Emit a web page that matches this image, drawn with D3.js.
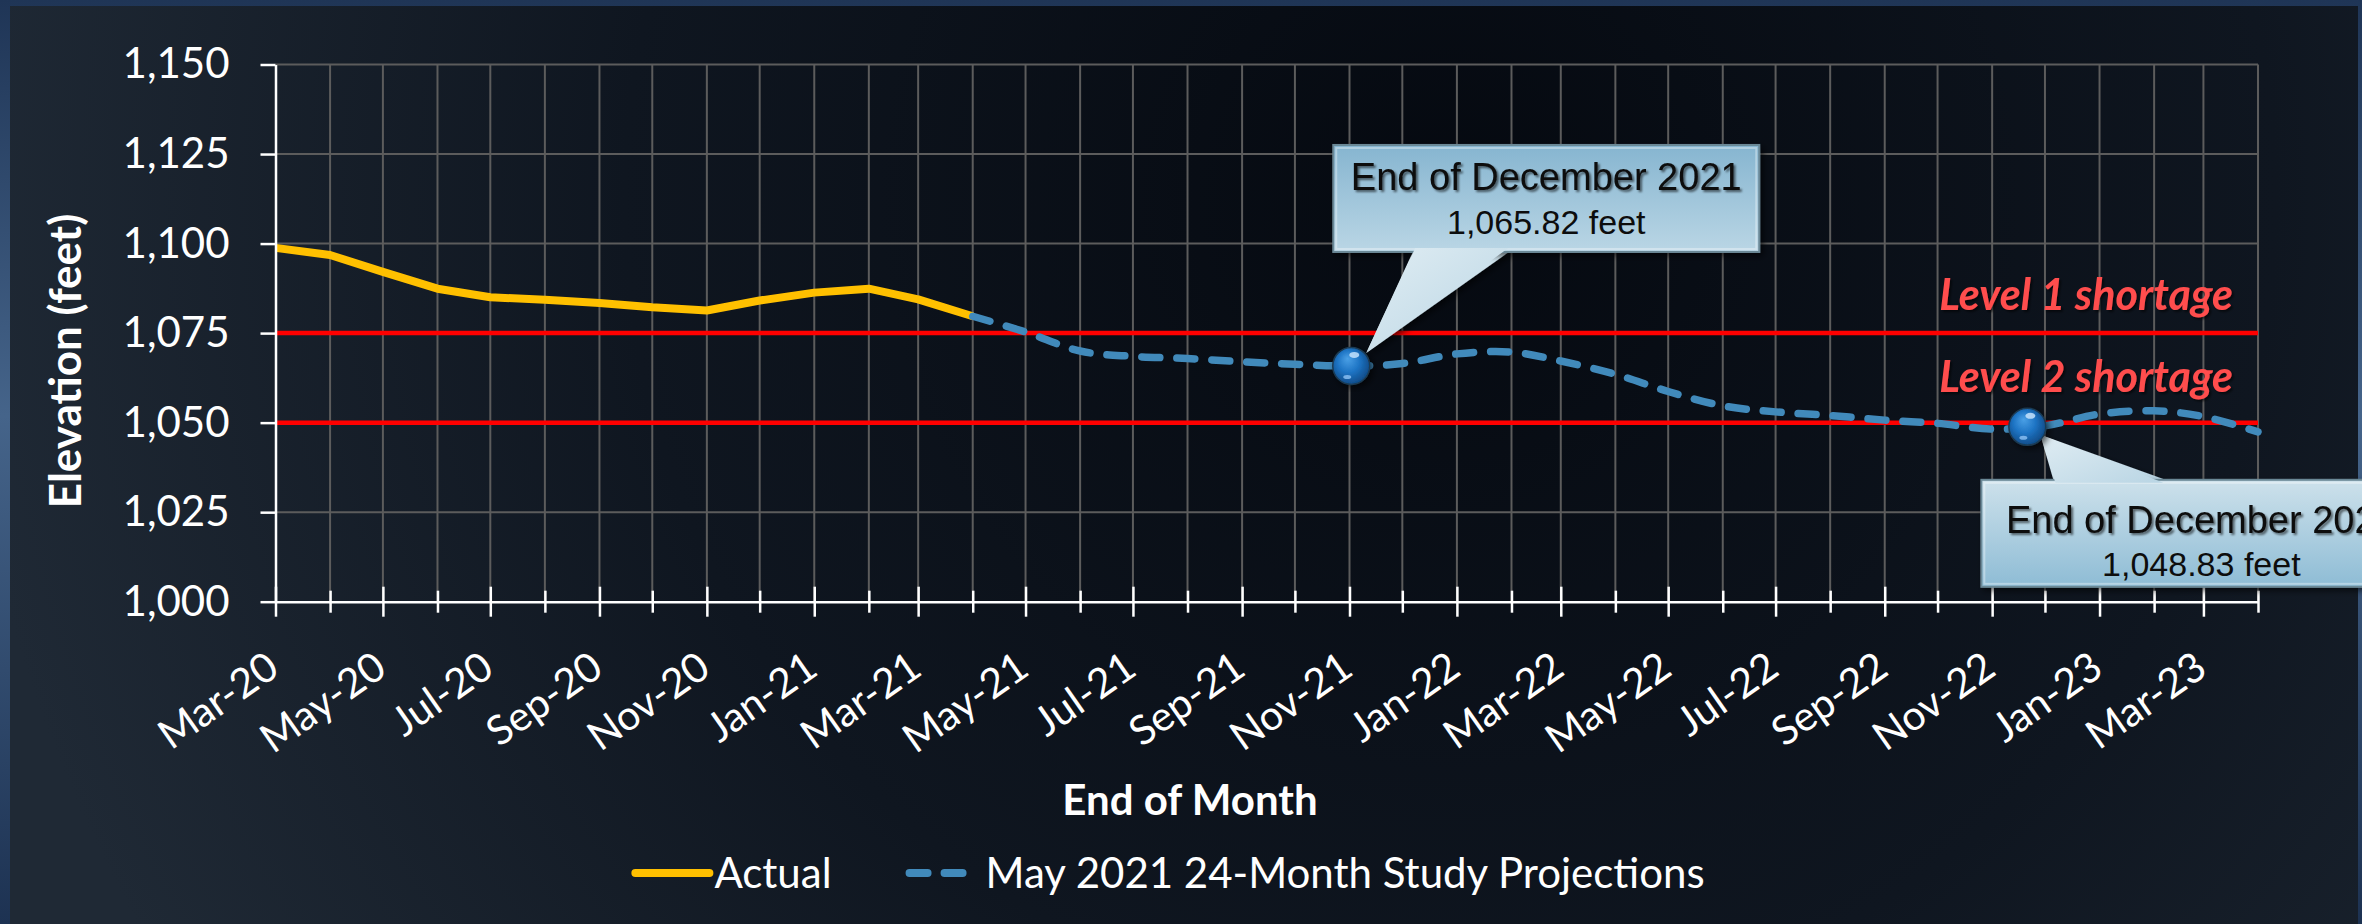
<!DOCTYPE html>
<html lang="en">
<head>
<meta charset="utf-8">
<title>Lake elevation projection</title>
<script src="https://cdn.jsdelivr.net/npm/d3@7"></script>
<style>
  html, body { margin: 0; padding: 0; background: #22395a; }
  svg { display: block; }
  .tick text { fill: #fff; font-family: Lato, "Open Sans", sans-serif; }
</style>
</head>
<body>
<script>
// --- data ---
var actualMonths = ["Mar-20","Apr-20","May-20","Jun-20","Jul-20","Aug-20","Sep-20","Oct-20",
                    "Nov-20","Dec-20","Jan-21","Feb-21","Mar-21","Apr-21"];
var actualElev = [1098.8, 1096.8, 1092.1, 1087.4, 1085.0, 1084.3, 1083.4, 1082.2,
                  1081.3, 1084.1, 1086.3, 1087.4, 1084.4, 1079.7];

var projMonths = ["Apr-21","May-21","Jun-21","Jul-21","Aug-21","Sep-21","Oct-21","Nov-21",
                  "Dec-21","Jan-22","Feb-22","Mar-22","Apr-22","May-22","Jun-22","Jul-22",
                  "Aug-22","Sep-22","Oct-22","Nov-22","Dec-22","Jan-23","Feb-23","Mar-23","Apr-23"];
var projElev = [1079.7, 1075.3, 1070.0, 1068.5, 1067.9, 1067.0, 1066.3, 1065.82,
                1066.5, 1069.2, 1069.7, 1067.2, 1063.5, 1058.7, 1054.7, 1053.0,
                1052.0, 1050.7, 1049.8, 1048.2, 1049.1, 1052.4, 1053.3, 1051.7, 1047.4];

var xTickLabels = ["Mar-20","May-20","Jul-20","Sep-20","Nov-20","Jan-21","Mar-21","May-21",
                   "Jul-21","Sep-21","Nov-21","Jan-22","Mar-22","May-22","Jul-22","Sep-22",
                   "Nov-22","Jan-23","Mar-23"];
var yTicks = [1000, 1025, 1050, 1075, 1100, 1125, 1150];

var shortageNames = ["Level 1 shortage", "Level 2 shortage"];
var shortageElev = [1075, 1050];

var calloutTitles = ["End of December 2021", "End of December 2022"];
var calloutElev = [1065.82, 1048.83];
var calloutDates = ["2021-11-02", "2022-11-21"];

var seriesNames = ["Actual", "May 2021 24-Month Study Projections"];

// --- setup ---
var w = 2362, h = 924;
var parseM = d3.timeParse("%b-%y");
var fmtM = d3.timeFormat("%b-%y");

var svg = d3.select("body").append("svg")
    .attr("width", w)
    .attr("height", h);

var defs = svg.append("defs");

var bg = defs.append("radialGradient").attr("id", "bg")
    .attr("gradientUnits", "userSpaceOnUse")
    .attr("cx", 1450).attr("cy", 200).attr("r", 1500);
bg.append("stop").attr("offset", 0).attr("stop-color", "#050910");
bg.append("stop").attr("offset", 0.55).attr("stop-color", "#0f1620");
bg.append("stop").attr("offset", 1).attr("stop-color", "#1f2935");

var frame = defs.append("linearGradient").attr("id", "frame")
    .attr("x1", 0).attr("y1", 0).attr("x2", 0).attr("y2", 1);
frame.append("stop").attr("offset", 0).attr("stop-color", "#1f3556");
frame.append("stop").attr("offset", 0.45).attr("stop-color", "#45648a");
frame.append("stop").attr("offset", 1).attr("stop-color", "#1d3252");

function boxGrad(id, darkTop) {
    var g = defs.append("linearGradient").attr("id", id)
        .attr("x1", 0).attr("y1", 0).attr("x2", 0).attr("y2", 1);
    g.append("stop").attr("offset", 0).attr("stop-color", darkTop ? "#86b5d0" : "#cde1eb");
    g.append("stop").attr("offset", 1).attr("stop-color", darkTop ? "#bad6e5" : "#8ebcd5");
}
boxGrad("boxDown", true);
boxGrad("boxUp", false);

var tail = defs.append("linearGradient").attr("id", "tail")
    .attr("x1", 0).attr("y1", 0).attr("x2", 1).attr("y2", 1);
tail.append("stop").attr("offset", 0).attr("stop-color", "#e0edf3");
tail.append("stop").attr("offset", 1).attr("stop-color", "#b9d5e4");

var ball = defs.append("radialGradient").attr("id", "ball")
    .attr("cx", 0.45).attr("cy", 0.45).attr("r", 0.6)
    .attr("fx", 0.4).attr("fy", 0.3);
ball.append("stop").attr("offset", 0).attr("stop-color", "#4aa0e6");
ball.append("stop").attr("offset", 0.5).attr("stop-color", "#1e74c4");
ball.append("stop").attr("offset", 1).attr("stop-color", "#0d4680");

defs.append("filter").attr("id", "shadow")
    .attr("x", "-20%").attr("y", "-20%").attr("width", "140%").attr("height", "140%")
    .append("feDropShadow").attr("dx", 3).attr("dy", 3).attr("stdDeviation", 3)
    .attr("flood-color", "#000").attr("flood-opacity", 0.6);
defs.append("filter").attr("id", "txtShadow")
    .append("feDropShadow").attr("dx", 2).attr("dy", 2).attr("stdDeviation", 1)
    .attr("flood-color", "#000").attr("flood-opacity", 0.55);

// background: blue frame and dark panel
svg.append("rect").attr("width", w).attr("height", h).attr("fill", "url(#frame)");
svg.append("rect").attr("x", 10).attr("y", 6).attr("width", w - 14).attr("height", h)
    .attr("fill", "url(#bg)");

// scales
var x0 = 275.5, x1 = 2258, yTop = 64.5, yBot = 601.7;
var x = d3.scaleTime()
    .domain([parseM(actualMonths[0]), parseM(projMonths[projMonths.length - 1])])
    .range([x0, x1]);
var y = d3.scaleLinear().domain([1000, 1150]).range([yBot, yTop]);

var allMonths = d3.timeMonth.range(x.domain()[0], d3.timeMonth.offset(x.domain()[1], 1));
var labelSet = new Set(xTickLabels);

// grid
var grid = svg.append("g");
grid.selectAll("line.h").data(yTicks.slice(1)).enter().append("line")
    .attr("x1", x0).attr("x2", x1)
    .attr("y1", function(d){ return y(d); }).attr("y2", function(d){ return y(d); })
    .attr("stroke", "#5c5c5c").attr("stroke-width", 2);
grid.selectAll("line.v").data(allMonths.slice(1)).enter().append("line")
    .attr("x1", function(d){ return x(d); }).attr("x2", function(d){ return x(d); })
    .attr("y1", yTop).attr("y2", yBot)
    .attr("stroke", "#5c5c5c").attr("stroke-width", 2);

// shortage lines
svg.selectAll("line.level").data(shortageElev).enter().append("line")
    .attr("x1", x0).attr("x2", x1)
    .attr("y1", function(d){ return y(d); }).attr("y2", function(d){ return y(d); })
    .attr("stroke", "#ff0000").attr("stroke-width", 4.5);

var labelLift = [23, 31];
svg.selectAll("text.level").data(shortageNames).enter().append("text")
    .attr("x", 2233)
    .attr("y", function(d, i){ return y(shortageElev[i]) - labelLift[i]; })
    .attr("text-anchor", "end")
    .attr("font-family", "Lato, sans-serif")
    .attr("font-weight", "bold").attr("font-style", "italic")
    .attr("font-size", "43px")
    .attr("fill", "#ff4d4d")
    .attr("filter", "url(#txtShadow)")
    .text(function(d){ return d; });

// series
var actual = actualMonths.map(function(m, i){ return {date: parseM(m), v: actualElev[i]}; });
var proj = projMonths.map(function(m, i){ return {date: parseM(m), v: projElev[i]}; });

var straight = d3.line().x(function(d){ return x(d.date); }).y(function(d){ return y(d.v); });
var smooth = d3.line().curve(d3.curveCatmullRom.alpha(0.5))
    .x(function(d){ return x(d.date); }).y(function(d){ return y(d.v); });

svg.append("path").datum(actual)
    .attr("d", straight)
    .attr("fill", "none").attr("stroke", "#ffc000").attr("stroke-width", 8)
    .attr("stroke-linejoin", "round");

svg.append("path").datum(proj)
    .attr("d", smooth)
    .attr("fill", "none").attr("stroke", "#418abb").attr("stroke-width", 7.5)
    .attr("stroke-linecap", "round")
    .attr("stroke-dasharray", "18,17");

// axes
var yAxis = svg.append("g")
    .attr("transform", "translate(" + x0 + ",0)")
    .call(d3.axisLeft(y).tickValues(yTicks).tickFormat(d3.format(","))
        .tickSize(15).tickSizeOuter(0).tickPadding(31));
yAxis.select(".domain").attr("stroke", "#fff").attr("stroke-width", 2.5);
yAxis.selectAll(".tick line").attr("stroke", "#fff").attr("stroke-width", 2.5);
yAxis.selectAll(".tick text").attr("font-size", "42px");

var xAxis = svg.append("g")
    .attr("transform", "translate(0," + yBot + ")")
    .call(d3.axisBottom(x).tickValues(allMonths)
        .tickFormat(function(d){ return labelSet.has(fmtM(d)) ? fmtM(d) : ""; })
        .tickSizeOuter(0));
xAxis.select(".domain").attr("stroke", "#fff").attr("stroke-width", 2.5);
xAxis.selectAll(".tick line")
    .attr("stroke", "#fff").attr("stroke-width", 2.5)
    .attr("y1", function(d){ return labelSet.has(fmtM(d)) ? -15 : -11; })
    .attr("y2", function(d){ return labelSet.has(fmtM(d)) ? 15 : 11; });
xAxis.selectAll(".tick text")
    .attr("font-size", "41px")
    .attr("text-anchor", "end")
    .attr("x", 0).attr("y", 0).attr("dy", "0.35em")
    .attr("transform", "translate(-3,60) rotate(-35)");

// axis titles
svg.append("text")
    .attr("transform", "translate(66,361) rotate(-90)")
    .attr("text-anchor", "middle").attr("dy", "0.35em")
    .attr("font-family", "Lato, sans-serif").attr("font-weight", "bold")
    .attr("font-size", "44px").attr("fill", "#fff")
    .text("Elevation (feet)");

svg.append("text")
    .attr("x", 1190).attr("y", 815)
    .attr("text-anchor", "middle")
    .attr("font-family", "Lato, sans-serif").attr("font-weight", "bold")
    .attr("font-size", "42px").attr("fill", "#fff")
    .text("End of Month");

// legend
var legend = svg.append("g");
var lx = 0;
legend.append("line").attr("x1", lx).attr("x2", lx + 74).attr("y1", 0).attr("y2", 0)
    .attr("stroke", "#ffc000").attr("stroke-width", 8).attr("stroke-linecap", "round");
var leg1 = legend.append("text").attr("x", lx + 79).attr("y", 15)
    .attr("font-family", "Lato, sans-serif").attr("font-size", "42px").attr("fill", "#fff")
    .text(seriesNames[0]);
lx = lx + 79 + leg1.node().getComputedTextLength() + 74;
legend.append("line").attr("x1", lx + 4).attr("x2", lx + 60).attr("y1", 0).attr("y2", 0)
    .attr("stroke", "#418abb").attr("stroke-width", 8).attr("stroke-linecap", "round")
    .attr("stroke-dasharray", "18,17");
var leg2 = legend.append("text").attr("x", lx + 80).attr("y", 15)
    .attr("font-family", "Lato, sans-serif").attr("font-size", "42px").attr("fill", "#fff")
    .text(seriesNames[1]);
var legW = lx + 80 + leg2.node().getComputedTextLength();
legend.attr("transform", "translate(" + (1170 - legW / 2) + ",873)");

// callouts
var calloutLayout = [
    {box: [-18, -221, 426, 107], tail: [[62, -115], [159, -115], [15, -13]], grad: "boxDown", t1: 45, t2: 89},
    {box: [-46, 53, 440, 107], tail: [[26, 53], [138, 53], [13, 8]], grad: "boxUp", t1: 53, t2: 96}
];
calloutTitles.forEach(function(title, i){
    var mx = x(d3.isoParse(calloutDates[i])), my = y(calloutElev[i]);
    var L = calloutLayout[i];
    var g = svg.append("g").attr("transform", "translate(" + mx + "," + my + ")");
    var bx = L.box[0], by = L.box[1], bw = L.box[2], bh = L.box[3];
    var baseY = L.tail[0][1];
    g.append("path")
        .attr("d", "M" + L.tail[0] + "L" + L.tail[2] + "L" + L.tail[1] + "Z")
        .attr("fill", "url(#tail)").attr("filter", "url(#shadow)");
    g.append("rect").attr("x", bx).attr("y", by).attr("width", bw).attr("height", bh)
        .attr("fill", "url(#" + L.grad + ")").attr("stroke", "#6b8896").attr("stroke-width", 2)
        .attr("filter", "url(#shadow)");
    g.append("rect").attr("x", bx + 3).attr("y", by + 3).attr("width", bw - 6).attr("height", bh - 6)
        .attr("fill", "none").attr("stroke", "rgba(255,255,255,0.35)").attr("stroke-width", 2);
    // join tail into the box edge
    g.append("path")
        .attr("d", "M" + (L.tail[0][0] + 2) + "," + (baseY + (i === 0 ? -3 : 3)) +
            "L" + L.tail[2] + "L" + (L.tail[1][0] - 2) + "," + (baseY + (i === 0 ? -3 : 3)) + "Z")
        .attr("fill", "url(#tail)");
    g.append("text").attr("x", bx + bw / 2).attr("y", by + L.t1)
        .attr("text-anchor", "middle")
        .attr("font-family", "'Liberation Sans', Arial, sans-serif").attr("font-size", "38px")
        .attr("fill", "#0d0d0d").attr("filter", "url(#txtShadow)")
        .text(title);
    g.append("text").attr("x", bx + bw / 2).attr("y", by + L.t2)
        .attr("text-anchor", "middle")
        .attr("font-family", "'Liberation Sans', Arial, sans-serif").attr("font-size", "34px")
        .attr("fill", "#0d0d0d")
        .text(d3.format(",.2f")(calloutElev[i]) + " feet");
    // marker
    g.append("circle").attr("r", 18.5)
        .attr("fill", "url(#ball)").attr("stroke", "#1b3a52").attr("stroke-width", 1.5)
        .attr("filter", "url(#shadow)");
    g.append("ellipse").attr("cx", 3).attr("cy", -11).attr("rx", 5).attr("ry", 3)
        .attr("fill", "#cfe8ff").attr("opacity", 0.8);
    g.append("ellipse").attr("cx", -4).attr("cy", 11).attr("rx", 4).attr("ry", 2)
        .attr("fill", "#9fd0ff").attr("opacity", 0.7);
});
</script>
</body>
</html>
